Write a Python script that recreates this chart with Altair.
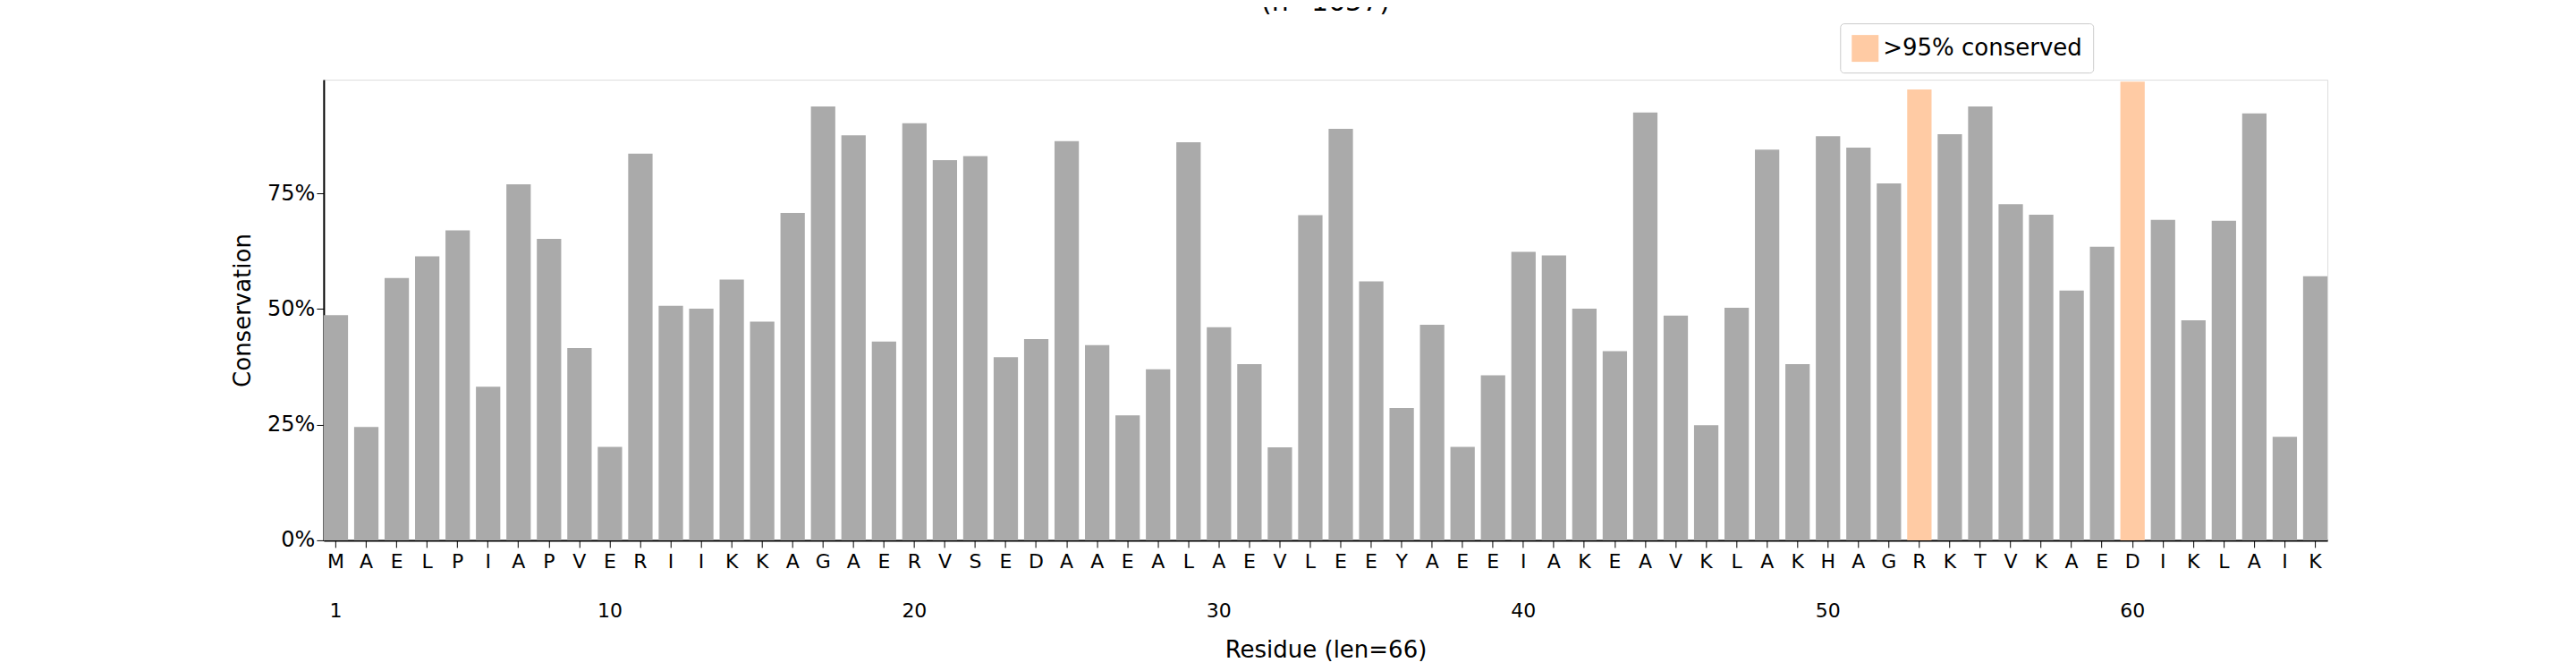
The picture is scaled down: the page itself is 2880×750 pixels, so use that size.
import altair as alt
import pandas as pd

letters = list("MAELPIAPVERIIKKAGAERVSEDAAEALAEVLEEYAEEIAKEAVKLAKHAGRKTVKAEDIKLAIK")
values = [48.7,24.5,56.7,61.4,67.0,33.2,77.0,65.2,41.6,20.2,83.6,50.7,50.1,56.4,47.3,70.8,93.8,87.6,43.0,90.2,
          82.2,83.1,39.6,43.5,86.3,42.2,27.0,37.0,86.1,46.1,38.1,20.1,70.3,89.0,56.0,28.6,46.6,20.2,35.7,62.4,
          61.6,50.1,40.9,92.5,48.6,24.9,50.3,84.5,38.1,87.4,84.9,77.2,97.5,87.8,93.8,72.7,70.4,54.0,63.5,99.2,
          69.3,47.6,69.1,92.3,22.4,57.1]
numbered = [1, 10, 20, 30, 40, 50, 60]

df = pd.DataFrame({
    "pos": list(range(1, len(letters) + 1)),
    "letter": letters,
    "cons": [v / 100.0 for v in values],
    "cat": [">95% conserved" if v > 95 else "other" for v in values],
})

seq = "".join(letters)
nums = ",".join(str(n) for n in numbered)
label_expr = (f"[substring('{seq}', datum.value - 1, datum.value), "
              f"indexof([{nums}], datum.value) >= 0 ? '' + datum.value : ' ']")

font = "DejaVu Sans"
chart = alt.Chart(df).mark_bar().encode(
    x=alt.X("pos:O",
            scale=alt.Scale(paddingInner=0.2, paddingOuter=0),
            axis=alt.Axis(title="Residue (len=66)", labelAngle=0,
                          labelExpr=label_expr,
                          labelFontSize=22, labelLineHeight=55, labelPadding=6,
                          tickSize=8, tickColor="black", domainColor="black", domainWidth=2,
                          titleFontSize=26, titlePadding=20, labelColor="black",
                          labelAlign="center", labelBaseline="top")),
    y=alt.Y("cons:Q", scale=alt.Scale(domain=[0, 0.996], nice=False),
            axis=alt.Axis(title="Conservation", format=".0%", values=[0, 0.25, 0.5, 0.75],
                          labelFontSize=24, titleFontSize=26, grid=False, tickSize=8,
                          tickColor="black", domainColor="black", domainWidth=2,
                          titlePadding=14, labelColor="black")),
    color=alt.Color("cat:N", scale=alt.Scale(domain=[">95% conserved", "other"],
                                             range=["#ffcba4", "#aaaaaa"]),
                    legend=alt.Legend(title=None, values=[">95% conserved"], orient="none",
                                      legendX=1696, legendY=-63, labelFontSize=26,
                                      labelLimit=500, symbolType="square", symbolSize=900,
                                      strokeColor="#cccccc", padding=12, cornerRadius=4,
                                      fillColor="white", labelFont=font))
).properties(
    width=2241, height=515,
    title=alt.TitleParams(["Conservation of cluster 1", "(n=1657)"], fontSize=30,
                          fontWeight="normal", anchor="middle", offset=8, font=font,
                          lineHeight=34)
).configure_view(stroke=None).configure(font=font).configure_axis(labelFont=font, titleFont=font,
    titleFontWeight="normal")

chart = chart.properties(autosize=alt.AutoSizeParams(type="none"),
                         padding={"left": 354, "top": 81, "right": 270, "bottom": 140})
chart.save("out.html", embed_options={"renderer": "svg", "actions": False})
